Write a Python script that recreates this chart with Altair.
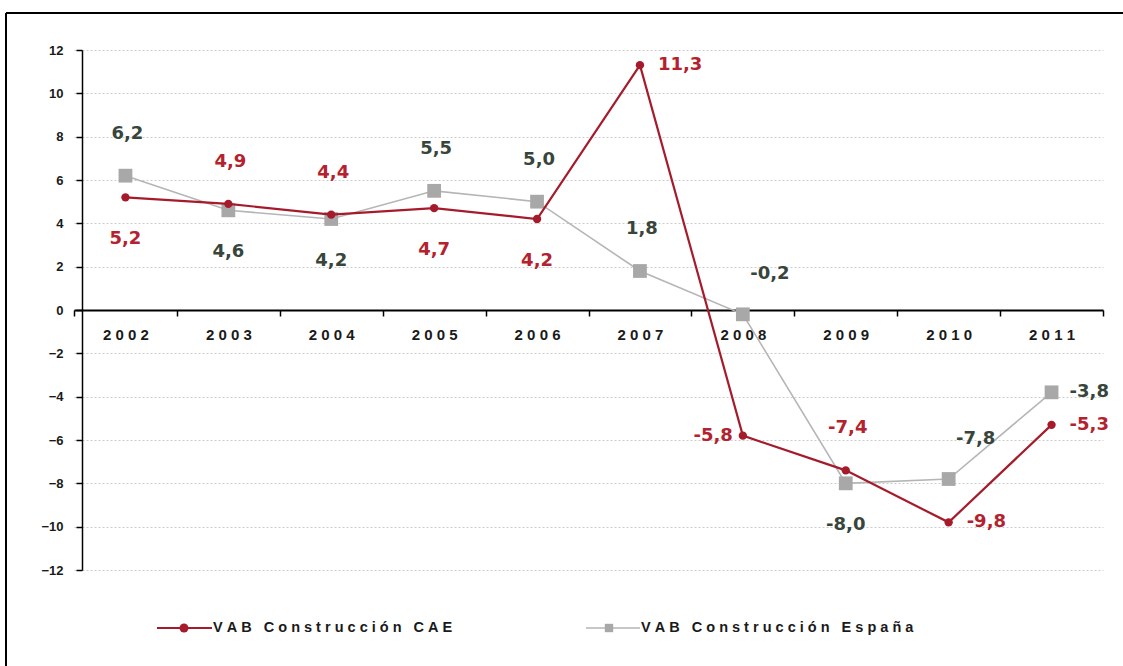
import altair as alt
import pandas as pd

# ---- data ----
years = ["2002", "2003", "2004", "2005", "2006", "2007", "2008", "2009", "2010", "2011"]
cae = [5.2, 4.9, 4.4, 4.7, 4.2, 11.3, -5.8, -7.4, -9.8, -5.3]
espana = [6.2, 4.6, 4.2, 5.5, 5.0, 1.8, -0.2, -8.0, -7.8, -3.8]
cae_label_side = ["below", "above", "above", "below", "below", "right", "left", "above", "right", "right"]
espana_label_side = ["above", "below", "below", "above", "above", "above", "upright", "below", "upright", "right"]
series_names = ["VAB Construcción CAE", "VAB Construcción España"]
y_ticks = [-12, -10, -8, -6, -4, -2, 0, 2, 4, 6, 8, 10, 12]

rows = []
for name, vals, sides in [(series_names[0], cae, cae_label_side),
                          (series_names[1], espana, espana_label_side)]:
    for yr, v, s in zip(years, vals, sides):
        rows.append({"year": yr, "serie": name, "value": v, "side": s,
                     "label": f"{v:.1f}".replace(".", ",")})
df = pd.DataFrame(rows)

# ---- layout ----
W, H = 1029, 520
PAD_L, PAD_T = 74, 50
FONT = "Liberation Sans"
LABEL_FONT = "DejaVu Sans"
RED_LINE = "#a61b2b"
RED_TEXT = "#b3222e"
GRAY_LINE = "#b5b5b5"
GRAY_MARK = "#a8a8a8"
GRAY_TEXT = "#37453b"
NBSP = "\u00a0"

x_enc = alt.X(
    "year:N", sort=years, title=None,
    scale=alt.Scale(type="band", paddingInner=0, paddingOuter=0),
    axis=alt.Axis(orient="bottom", offset=-H / 2, labelAngle=0, tickBand="extent",
                  domainColor="#000000", domainWidth=2, tickColor="#000000",
                  tickWidth=1.5, tickSize=6, labelFont=FONT, labelFontSize=15,
                  labelFontWeight="bold", labelColor="#1a1a1a", labelPadding=11,
                  labelExpr=f"join(split(datum.label, ''), '{NBSP}')", grid=False),
)
y_enc = alt.Y(
    "value:Q", title=None,
    scale=alt.Scale(domain=[-12, 12], nice=False, zero=False),
    axis=alt.Axis(values=y_ticks, offset=-8, tickSize=6, tickColor="#000000",
                  tickWidth=1.5, domainColor="#000000", domainWidth=1.5,
                  labelFont=FONT, labelFontSize=13, labelFontWeight="bold",
                  labelColor="#1a1a1a", labelPadding=13,
                  grid=True, gridColor="#cccccc", gridDash=[2, 2], gridWidth=1),
)

placements = {
    "above": dict(dx=2, dy=-42, align="center"),
    "below": dict(dx=0, dy=42, align="center"),
    "right": dict(dx=18, dy=0, align="left"),
    "left": dict(dx=-10, dy=0, align="right"),
    "upright": dict(dx=27, dy=-40, align="center"),
}

layers = []
series_style = [
    (series_names[1], GRAY_LINE, 1.6, "square", GRAY_MARK, 190, GRAY_TEXT),
    (series_names[0], RED_LINE, 2.2, "circle", RED_LINE, 70, RED_TEXT),
]
for name, lcol, lw, shape, mcol, msize, tcol in series_style:
    base = alt.Chart().transform_filter(alt.datum.serie == name)
    layers.append(base.mark_line(color=lcol, strokeWidth=lw).encode(x=x_enc, y=y_enc))
    layers.append(base.mark_point(shape=shape, filled=True, opacity=1, color=mcol,
                                  size=msize).encode(x=x_enc, y=y_enc))
for name, lcol, lw, shape, mcol, msize, tcol in series_style:
    for side, p in placements.items():
        layers.append(
            alt.Chart()
            .transform_filter((alt.datum.serie == name) & (alt.datum.side == side))
            .mark_text(font=LABEL_FONT, fontSize=18, fontWeight="bold", color=tcol,
                       baseline="middle", align=p["align"], dx=p["dx"], dy=p["dy"])
            .encode(x=x_enc, y=y_enc, text="label:N")
        )

# ---- legend (drawn below the plot) ----
legend_items = [
    (series_names[0], 157, 212, 184, "circle", RED_LINE, 80, 2.2, RED_LINE),
    (series_names[1], 586, 640, 609, "square", GRAY_MARK, 70, 1.6, GRAY_LINE),
]
LEG_Y = 628 - PAD_T
for name, x0, x1, xm, shape, mcol, msize, lw, lcol in legend_items:
    ldata = alt.Data(values=[{"serie": name}])
    layers.append(alt.Chart(ldata).mark_rule(color=lcol, strokeWidth=lw).encode(
        x=alt.value(x0 - PAD_L), x2=alt.value(x1 - PAD_L), y=alt.value(LEG_Y)))
    layers.append(alt.Chart(ldata).mark_point(shape=shape, filled=True, opacity=1,
                                              color=mcol, size=msize).encode(
        x=alt.value(xm - PAD_L), y=alt.value(LEG_Y)))
    layers.append(alt.Chart(ldata).transform_calculate(
        spaced=f"join(split(datum.serie, ''), '{NBSP}')"
    ).mark_text(font=FONT, fontSize=14.5, fontWeight="bold", color="#1a1a1a",
                align="left", baseline="middle").encode(
        x=alt.value(x1 + 1 - PAD_L), y=alt.value(LEG_Y), text="spaced:N"))

# ---- frame (top and left edge of the picture) ----
fdata = alt.Data(values=[{"f": 1}])
layers.append(alt.Chart(fdata).mark_rule(color="#000000", strokeWidth=2).encode(
    x=alt.value(6 - PAD_L), y=alt.value(13 - PAD_T), y2=alt.value(666 - PAD_T)))
layers.append(alt.Chart(fdata).mark_rule(color="#000000", strokeWidth=2).encode(
    x=alt.value(6 - PAD_L), x2=alt.value(1123 - PAD_L), y=alt.value(13 - PAD_T)))

chart = alt.layer(*layers, data=df).properties(
    width=W, height=H,
    autosize=alt.AutoSizeParams(type="none"),
    padding={"left": PAD_L, "top": PAD_T, "right": 1123 - PAD_L - W, "bottom": 666 - PAD_T - H},
    background="#ffffff",
).configure_view(stroke=None)

chart.save("out.html", embed_options={"renderer": "svg", "actions": False})
